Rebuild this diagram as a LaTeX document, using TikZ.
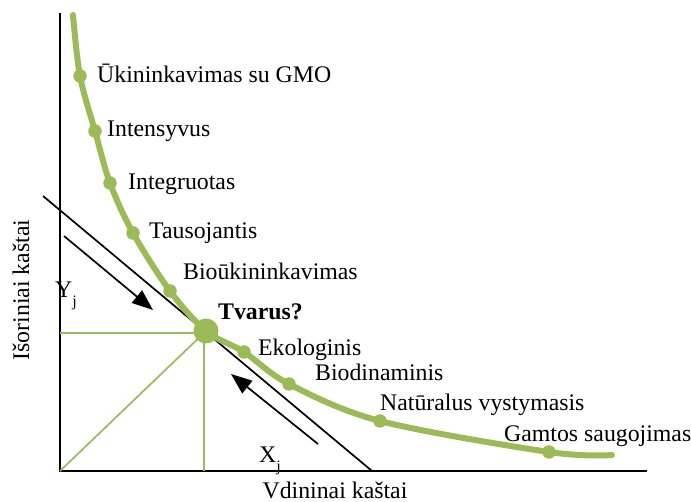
\documentclass[tikz,border=0pt]{standalone}
\usepackage{fontspec}
\setmainfont{Liberation Serif}
\usetikzlibrary{arrows.meta}
\definecolor{curvegreen}{RGB}{155,187,89}
\tikzset{
  axis/.style={draw=black, line width=2pt},
  tangent/.style={draw=black, line width=1.7pt},
  dirarrow/.style={draw=black, line width=1.7pt, -{Triangle[length=21pt,width=16pt]}},
  guide/.style={draw=curvegreen, line width=1.7pt},
  costcurve/.style={draw=curvegreen, line width=6pt, line cap=round},
  dot/.style={circle, fill=curvegreen, inner sep=0pt, minimum size=13.5pt},
  bigdot/.style={circle, fill=curvegreen, inner sep=0pt, minimum size=25pt},
  lbl/.style={anchor=base west, inner sep=0pt, font=\fontsize{23.8}{28}\selectfont},
}
\newcommand{\subj}{\raisebox{-0.35em}{\fontsize{16}{16}\selectfont j}}
\begin{document}
\begin{tikzpicture}[x=1pt, y=-1pt]
  \useasboundingbox (0,0) rectangle (691,502);

  % axes
  \coordinate (ytop) at (60,13);
  \coordinate (O) at (60,471);
  \coordinate (xend) at (647,471);
  \draw[axis] (ytop) -- (O) -- (xend);

  % points on the curve
  \coordinate (c0) at (73,15);
  \coordinate (p1) at (80,76);
  \coordinate (p2) at (95,131);
  \coordinate (p3) at (110,183);
  \coordinate (p4) at (133,233);
  \coordinate (p5) at (170,291);
  \coordinate (T)  at (206,331);
  \coordinate (p6) at (244,352);
  \coordinate (p7) at (289,384);
  \coordinate (p8) at (380,421);
  \coordinate (p9) at (549,452);
  \coordinate (c1) at (612,455);

  % guide lines to the optimum
  \coordinate (yT) at (60,333);
  \coordinate (xT) at (204,471);
  \coordinate (Tv) at (204,333);
  \draw[guide] (yT) -- (Tv) -- (xT);
  \draw[guide] (O) -- (T);

  % budget (tangent) line
  \coordinate (t0) at (43,196);
  \coordinate (t1) at (372,471);
  \draw[tangent] (t0) -- (t1);

  % direction arrows
  \coordinate (a1s) at (64,236);
  \coordinate (a1e) at (153,310);
  \coordinate (a2s) at (318,444);
  \coordinate (a2e) at (231,374);
  \draw[dirarrow] (a1s) -- (a1e);
  \draw[dirarrow] (a2s) -- (a2e);

  % cost curve
  \draw[costcurve] plot[smooth, tension=0.55] coordinates
    {(c0) (p1) (p2) (p3) (p4) (p5) (T) (p6) (p7) (p8) (p9) (c1)};

  \foreach \p in {p1,p2,p3,p4,p5,p6,p7,p8,p9}
    \node[dot] (d\p) at (\p) {};
  \node[bigdot] (dT) at (T) {};

  % labels
  \node[lbl] (l1) at (97,83)  {Ūkininkavimas su GMO};
  \node[lbl] (l2) at (107,137) {Intensyvus};
  \node[lbl] (l3) at (128,190) {Integruotas};
  \node[lbl] (l4) at (149,239) {Tausojantis};
  \node[lbl] (l5) at (183,280) {Bioūkininkavimas};
  \node[lbl, font=\fontsize{23.8}{28}\selectfont\bfseries] (lT) at (218,320) {Tvarus?};
  \node[lbl] (l6) at (258,356) {Ekologinis};
  \node[lbl] (l7) at (315,381) {Biodinaminis};
  \node[lbl] (l8) at (380,411) {Natūralus vystymasis};
  \node[lbl] (l9) at (504,442) {Gamtos saugojimas};

  \node[lbl] (ly) at (55,298) {Y\subj};
  \node[lbl] (lx) at (259,463) {X\subj};

  \node[anchor=base, inner sep=0pt, font=\fontsize{23.8}{28}\selectfont] (xlab) at (335,498) {Vdininai kaštai};
  \node[anchor=base, inner sep=0pt, rotate=90, font=\fontsize{23.8}{28}\selectfont] (ylab) at (29,290) {Išoriniai kaštai};
\end{tikzpicture}
\end{document}
